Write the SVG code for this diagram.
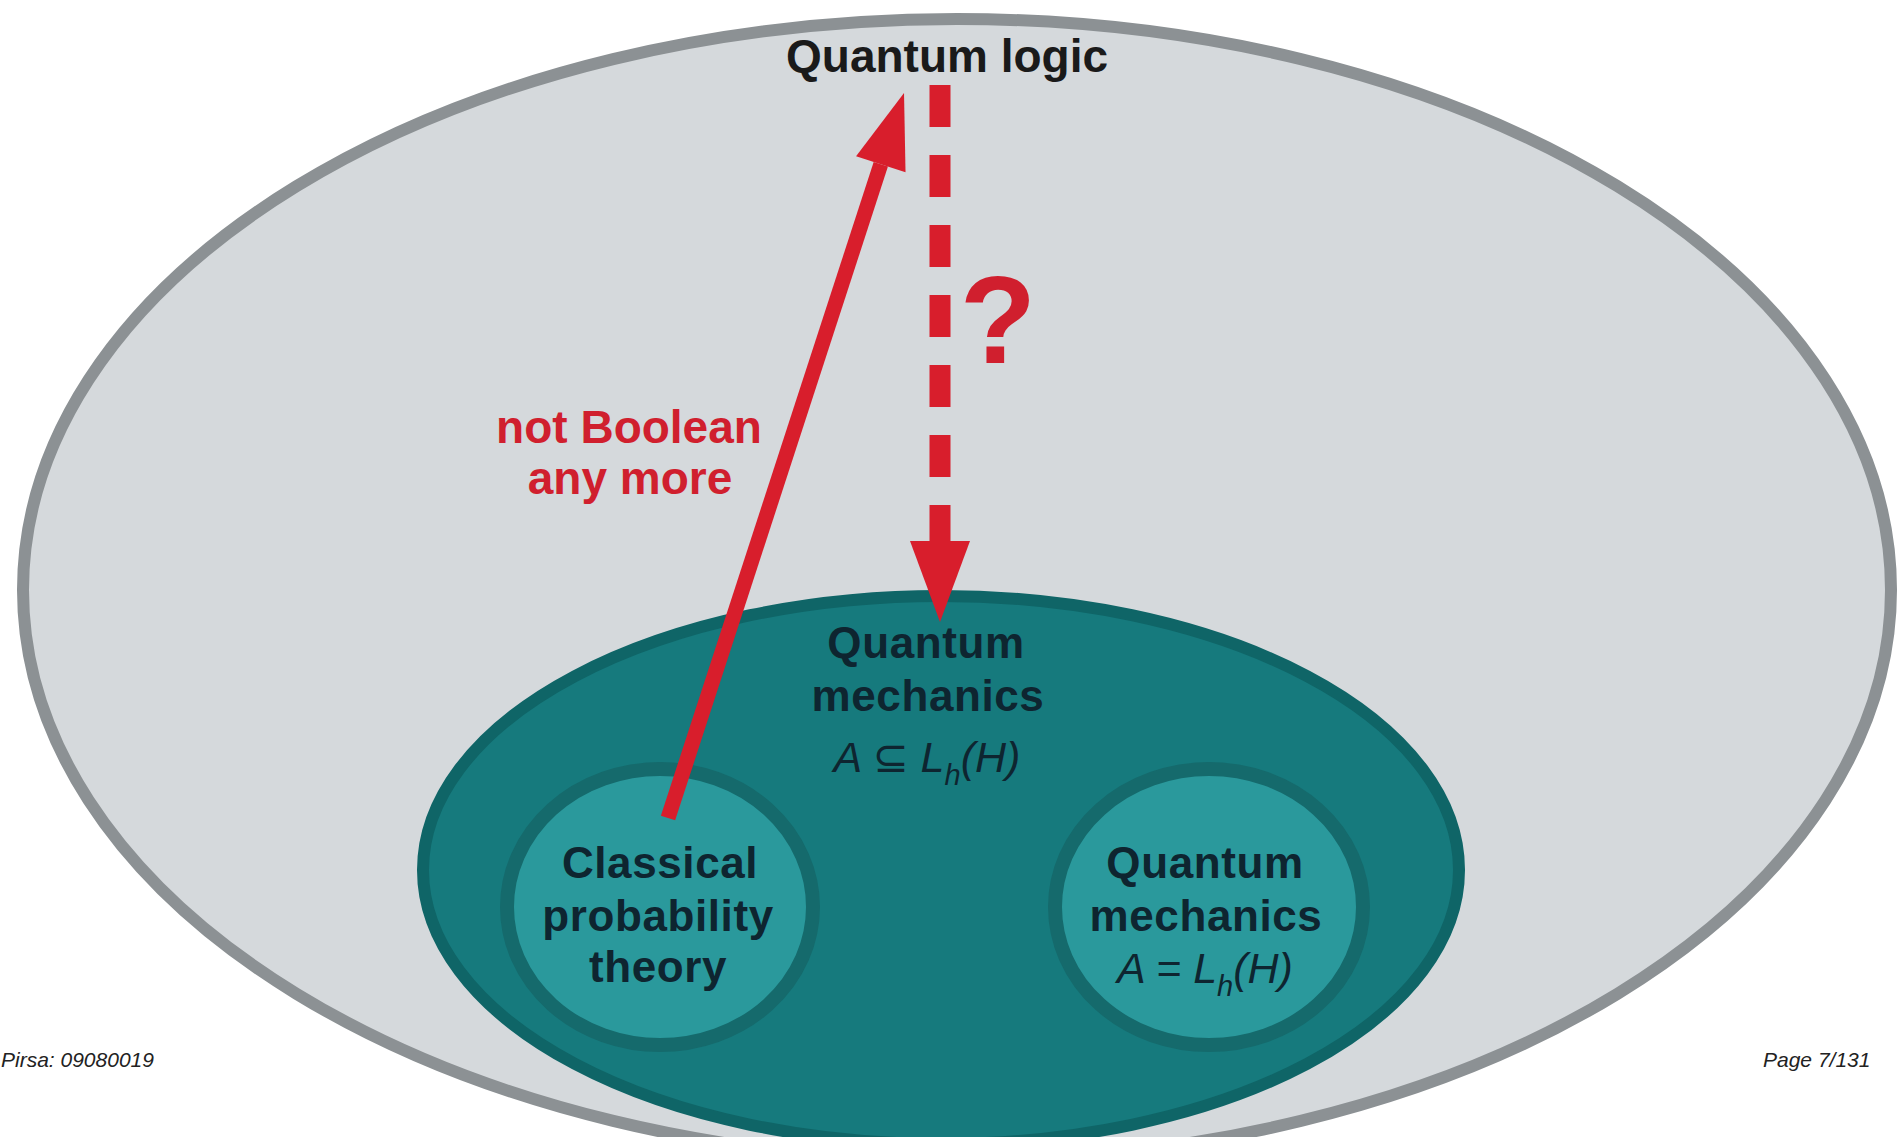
<svg xmlns="http://www.w3.org/2000/svg" width="1897" height="1137" viewBox="0 0 1897 1137">
<defs>
<style>
.lbl{font-family:"Liberation Sans",Arial,sans-serif;font-weight:bold;fill:#0e2530;text-anchor:middle}
.red{font-family:"Liberation Sans",Arial,sans-serif;font-weight:bold;fill:#d01f2e;text-anchor:middle}
.math{font-family:"Liberation Sans","DejaVu Sans",Arial,sans-serif;font-style:italic;fill:#0e2530;text-anchor:middle}
.foot{font-family:"Liberation Sans",Arial,sans-serif;font-style:italic;fill:#222;font-size:21px}
.inner{fill:#2a999c;stroke:#156a6c;stroke-width:14}
.conn{stroke:#d81e2c;fill:none}
</style>
<marker id="headA" markerUnits="userSpaceOnUse" orient="auto" markerWidth="80" markerHeight="60" viewBox="0 -30 80 60" refX="0" refY="0" overflow="visible">
<path d="M0,-26 L75,0 L0,26 z" fill="#d81e2c"/>
</marker>
<marker id="headB" markerUnits="userSpaceOnUse" orient="auto" markerWidth="90" markerHeight="70" viewBox="0 -35 90 70" refX="0" refY="0" overflow="visible">
<path d="M0,-30 L81,0 L0,30 z" fill="#d81e2c"/>
</marker>
</defs>
<rect width="1897" height="1137" fill="#ffffff"/>
<g id="quantum-logic">
<ellipse cx="957" cy="590" rx="934" ry="571" fill="#d5d9dc" stroke="#8c9194" stroke-width="12"/>
<text class="lbl" x="947" y="72" font-size="46" style="fill:#1a1a1a">Quantum logic</text>
</g>
<g id="quantum-mechanics-sub">
<ellipse cx="941" cy="870" rx="518" ry="274" fill="#167a7d" stroke="#0f6567" stroke-width="12"/>
<text class="lbl" x="926" y="658" font-size="44" letter-spacing="0.6">Quantum</text>
<text class="lbl" x="928" y="711" font-size="44" letter-spacing="0.6">mechanics</text>
<text class="math" x="927" y="772" font-size="43">A <tspan font-style="normal">⊆</tspan> L<tspan font-size="29" dy="13">h</tspan><tspan dy="-13">(H)</tspan></text>
</g>
<g id="classical">
<ellipse class="inner" cx="660" cy="907" rx="153" ry="138"/>
<text class="lbl" x="660" y="878" font-size="44" letter-spacing="0.6">Classical</text>
<text class="lbl" x="658" y="931" font-size="44" letter-spacing="0.6">probability</text>
<text class="lbl" x="658" y="982" font-size="44" letter-spacing="0.6">theory</text>
</g>
<g id="quantum-mechanics-full">
<ellipse class="inner" cx="1209" cy="907" rx="154" ry="138"/>
<text class="lbl" x="1205" y="878" font-size="44" letter-spacing="0.6">Quantum</text>
<text class="lbl" x="1206" y="931" font-size="44" letter-spacing="0.6">mechanics</text>
<text class="math" x="1205" y="983" font-size="43">A = L<tspan font-size="29" dy="13">h</tspan><tspan dy="-13">(H)</tspan></text>
</g>
<g id="connectors">
<line class="conn" x1="668" y1="818" x2="880.8" y2="164.3" stroke-width="15" marker-end="url(#headA)"/>
<line class="conn" x1="940" y1="85" x2="940" y2="541" stroke-width="21" stroke-dasharray="42 28" marker-end="url(#headB)"/>
<text class="red" x="629" y="443" font-size="46">not Boolean</text>
<text class="red" x="630" y="494" font-size="46">any more</text>
<text class="red" x="998" y="363" font-size="125">?</text>
</g>
<g id="footer">
<text class="foot" x="1" y="1067">Pirsa: 09080019</text>
<text class="foot" x="1763" y="1067">Page 7/131</text>
</g>
</svg>
